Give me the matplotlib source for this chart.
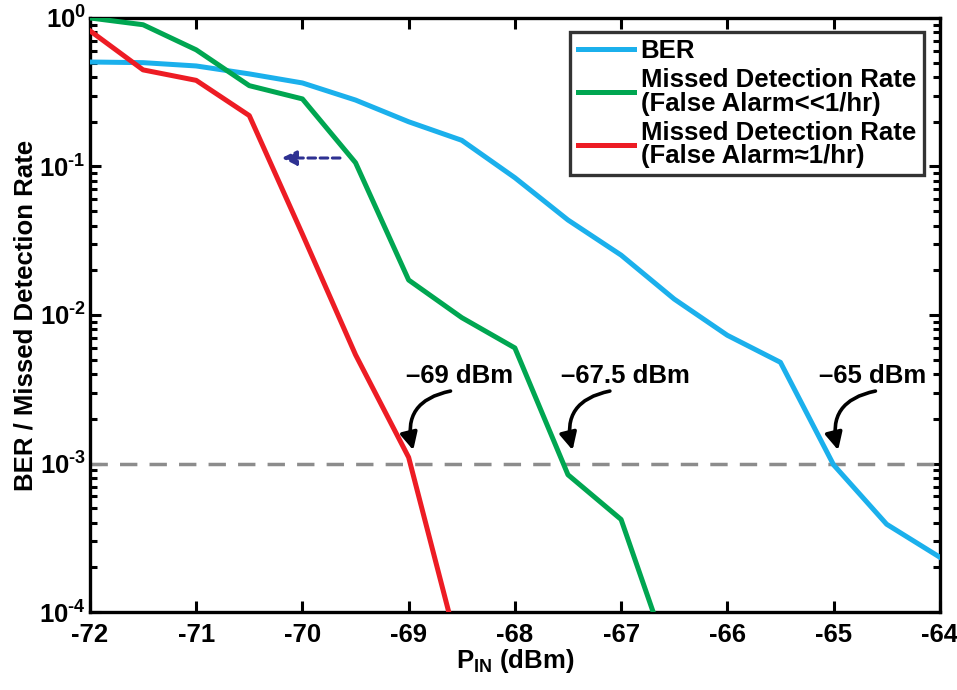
import numpy as np
import matplotlib
matplotlib.use('Agg')
import matplotlib.pyplot as plt
from matplotlib.ticker import FixedLocator, LogLocator, NullFormatter

plt.rcParams['font.family'] = ['Liberation Sans', 'DejaVu Sans']
plt.rcParams['font.weight'] = 'bold'
plt.rcParams['mathtext.fontset'] = 'custom'
plt.rcParams['mathtext.rm'] = 'Liberation Sans:bold'
plt.rcParams['mathtext.bf'] = 'Liberation Sans:bold'

# BER curve
ber_x = [-72, -71.5, -71, -70.5, -70, -69.5, -69, -68.5, -68, -67.5, -67, -66.5, -66, -65.5, -65, -64.5, -64]
ber_y = [0.505, 0.5, 0.475, 0.42, 0.365, 0.28, 0.2, 0.15, 0.084, 0.0436, 0.0253, 0.0128, 0.0073, 0.0048, 0.00098, 0.00039, 0.000234]

# missed detection, false alarm << 1/hr
md1_x = [-72, -71.5, -71, -70.5, -70, -69.5, -69, -68.5, -68, -67.5, -67, -66.5]
md1_y = [1.0, 0.9, 0.61, 0.35, 0.285, 0.106, 0.0172, 0.0096, 0.006, 0.00084, 0.00042, 0.000039]

# missed detection, false alarm ~ 1/hr
md2_x = [-72, -71.5, -71, -70.5, -70, -69.5, -69, -68.5]
md2_y = [0.82, 0.447, 0.38, 0.22, 0.035, 0.0054, 0.0011, 0.000046]

threshold = 1e-3
mark_x = [-69, -67.5, -65]
mark_text = ['\u201369 dBm', '\u201367.5 dBm', '\u201365 dBm']
mark_text_x = [-68.52, -66.96, -64.63]
ytick_exp = ['-4', '-3', '-2', '-1', '0']

fs = 18.5

fig = plt.figure(figsize=(9.57, 6.9), dpi=100)
ax = fig.add_axes([0.094, 0.113, 0.888, 0.861])

ax.plot(ber_x, ber_y, color='#1BB0EC', lw=3.6, label='BER', zorder=3)
ax.plot(md1_x, md1_y, color='#00A651', lw=3.6,
        label='Missed Detection Rate\n(False Alarm<<1/hr)', zorder=3)
ax.plot(md2_x, md2_y, color='#ED1C24', lw=3.6,
        label='Missed Detection Rate\n(False Alarm\u22481/hr)', zorder=3)
ax.plot([-72, -64], [threshold, threshold], color='#8C8C8C', lw=2.5,
        dashes=(5, 3.5), zorder=2)

ax.set_yscale('log')
ax.set_xlim(-72, -64)
ax.set_ylim(1e-4, 1)

# curved arrows to the 1e-3 crossing
for xm, txt, xt in zip(mark_x, mark_text, mark_text_x):
    ax.annotate('', xy=(xm + 0.05, 1.18e-3), xytext=(xm + 0.42, 3.1e-3),
                arrowprops=dict(arrowstyle='-|>', color='black', lw=2.6,
                                mutation_scale=26,
                                connectionstyle='arc3,rad=0.55'), zorder=4)
    ax.text(xt, 3.5e-3, txt, ha='center', va='baseline', fontsize=fs,
            fontweight='bold', zorder=4)

# shift arrow between the two missed detection curves
ax.annotate('', xy=(-70.22, 0.114), xytext=(-69.62, 0.114),
            arrowprops=dict(arrowstyle='-|>', color='#2E3192', lw=2.2,
                            linestyle=(0, (2.5, 1.5)), mutation_scale=22))

ax.set_xticks(np.arange(-72, -63, 1))
ax.set_xticklabels([str(v) for v in range(-72, -63)])
ax.yaxis.set_major_locator(FixedLocator([1e-4, 1e-3, 1e-2, 1e-1, 1]))
ax.set_yticklabels([r'$\mathbf{10^{\text{%s}}}$' % e for e in ytick_exp])
ax.yaxis.set_minor_locator(LogLocator(base=10, subs=np.arange(2, 10)))
ax.yaxis.set_minor_formatter(NullFormatter())

ax.tick_params(which='both', direction='in', top=True, right=True,
               width=2.2, labelsize=fs)
ax.tick_params(which='major', length=8)
ax.tick_params(which='minor', length=5)
ax.tick_params(axis='x', pad=8)
ax.tick_params(axis='y', pad=3)
for lab in ax.get_xticklabels() + ax.get_yticklabels():
    lab.set_fontweight('bold')
for sp in ax.spines.values():
    sp.set_linewidth(2.4)

ax.set_xlabel(r'P$_{\mathbf{IN}}$ (dBm)', fontsize=fs, fontweight='bold', labelpad=0)
ax.set_ylabel('BER / Missed Detection Rate', fontsize=fs, fontweight='bold', labelpad=1)

leg = ax.legend(loc='upper right', bbox_to_anchor=(0.981, 0.977), fontsize=fs,
                frameon=True, fancybox=False, edgecolor='black',
                handlelength=2.2, handletextpad=0.25, labelspacing=0.2,
                borderpad=0.3, borderaxespad=0)
leg.get_frame().set_linewidth(2.4)
for t in leg.get_texts():
    t.set_fontweight('bold')
    t.set_linespacing(0.95)

fig.savefig('out.png', dpi=100)
